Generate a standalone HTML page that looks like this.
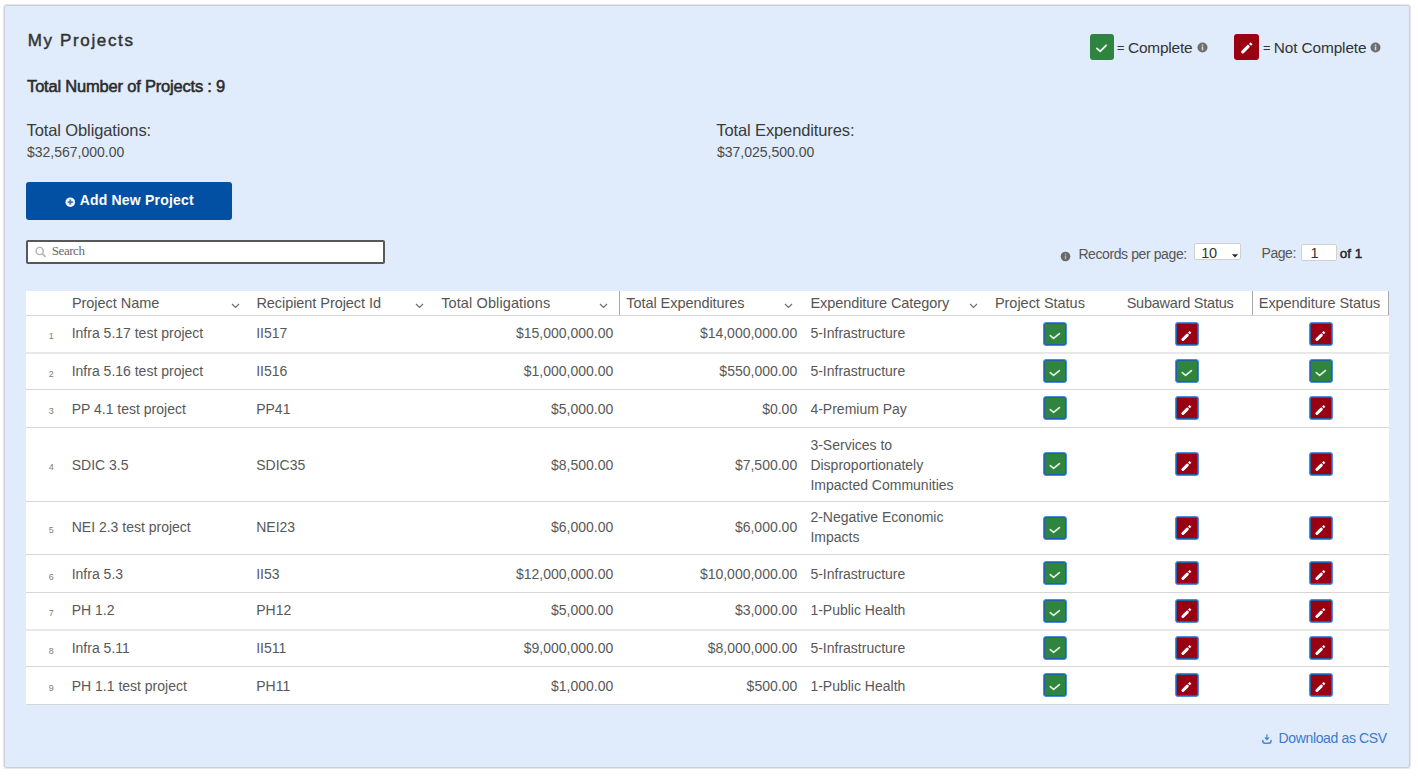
<!DOCTYPE html><html><head><meta charset="utf-8"><style>
html,body{margin:0;padding:0;background:#fff;width:1418px;height:778px;overflow:hidden;}
body{position:relative;font-family:"Liberation Sans",sans-serif;}
.t{position:absolute;white-space:nowrap;}
.r{position:absolute;box-sizing:border-box;}
svg{position:absolute;overflow:visible;}
</style></head><body>
<div class="r" style="left:4px;top:5px;width:1406px;height:763px;background:#e0ecfb;border:1px solid #cdd1d6;border-radius:3px;box-shadow:0 0 1px 0.5px rgba(0,0,0,0.10);"></div>
<div class="t" style="top:31.31px;font-size:17px;line-height:20px;color:#333;font-weight:400;letter-spacing:1.65px;left:27.70px;-webkit-text-stroke:0.45px #333;">My Projects</div>
<div class="t" style="top:75.88px;font-size:16.5px;line-height:20px;color:#2b2b2b;font-weight:400;letter-spacing:-0.2px;left:27.10px;-webkit-text-stroke:0.55px #2b2b2b;">Total Number of Projects : 9</div>
<div class="t" style="top:120.18px;font-size:16.5px;line-height:20px;color:#3a3a3a;font-weight:400;letter-spacing:-0.12px;left:26.60px;">Total Obligations:</div>
<div class="t" style="top:143.85px;font-size:14px;line-height:17px;color:#4a4a4a;font-weight:400;left:26.90px;">$32,567,000.00</div>
<div class="t" style="top:120.18px;font-size:16.5px;line-height:20px;color:#3a3a3a;font-weight:400;letter-spacing:-0.12px;left:716.30px;">Total Expenditures:</div>
<div class="t" style="top:143.65px;font-size:14px;line-height:17px;color:#4a4a4a;font-weight:400;left:717.00px;">$37,025,500.00</div>
<div class="r" style="left:26px;top:182px;width:206px;height:38px;background:#0250a3;border-radius:3px;"></div>
<svg style="left:65px;top:197.2px" width="11" height="11" viewBox="0 0 11 11"><circle cx="5.3" cy="5.2" r="4.8" fill="#f4f7fb"/><path d="M5.3 2.6v5.2M2.7 5.2h5.2" stroke="#3f78b8" stroke-width="1.8"/></svg>
<div class="t" style="top:191.65px;font-size:14px;line-height:17px;color:#ffffff;font-weight:700;letter-spacing:0.19px;left:79.70px;">Add New Project</div>
<div class="r" style="left:26px;top:240px;width:359px;height:24px;background:#fff;border:2px solid #585858;border-radius:2px;"></div>
<svg style="left:35px;top:246.4px" width="12" height="12" viewBox="0 0 12 12"><circle cx="4.7" cy="5" r="3.6" fill="none" stroke="#b0b0b0" stroke-width="1.4"/><path d="M7.3 7.6L10.6 10.9" stroke="#b0b0b0" stroke-width="1.5"/></svg>
<div class="t" style="top:243.20px;font-size:13px;line-height:16px;color:#6a6a6a;font-weight:400;font-family:'Liberation Serif',serif;letter-spacing:-0.45px;left:51.80px;">Search</div>
<svg style="left:1060px;top:251.2px" width="11" height="11" viewBox="0 0 11 11"><circle cx="5.5" cy="5.5" r="4.8" fill="#6a6a6a"/><rect x="4.8" y="4.6" width="1.4" height="3.6" fill="#b8b8b8"/><rect x="4.8" y="2.6" width="1.4" height="1.2" fill="#b8b8b8"/></svg>
<div class="t" style="top:245.65px;font-size:14px;line-height:17px;color:#555;font-weight:400;letter-spacing:-0.4px;left:1078.40px;">Records per page:</div>
<div class="r" style="left:1194px;top:243px;width:47px;height:17px;background:#fff;border:1px solid #d0d0d0;border-radius:2px;"></div>
<div class="t" style="top:244.78px;font-size:14.5px;line-height:17px;color:#333;font-weight:400;letter-spacing:-0.3px;left:1201.20px;">10</div>
<svg style="left:1231.5px;top:254px" width="6" height="4" viewBox="0 0 6 4"><path d="M0.3 0.4h5.4l-2.7 2.8z" fill="#222" stroke="#222" stroke-width="0.4" stroke-linejoin="round"/></svg>
<div class="t" style="top:245.25px;font-size:14px;line-height:17px;color:#555;font-weight:400;letter-spacing:-0.45px;left:1261.50px;">Page:</div>
<div class="r" style="left:1301px;top:244px;width:36px;height:17px;background:#fff;border:1px solid #d0d0d0;border-radius:2px;"></div>
<div class="t" style="top:244.78px;font-size:14.5px;line-height:17px;color:#333;font-weight:400;left:1310.50px;">1</div>
<div class="t" style="top:245.92px;font-size:13.5px;line-height:16px;color:#222;font-weight:400;left:1339.80px;-webkit-text-stroke:0.45px #222;">of 1</div>
<div class="r" style="left:1090px;top:34px;width:24px;height:26px;background:#2f8540;border-radius:3px;"></div>
<svg style="left:1090px;top:34px" width="24" height="26" viewBox="0 0 24 26"><path d="M6.8 14.4L10.2 17.3L16.1 11.3" fill="none" stroke="#eef6ee" stroke-width="1.8" stroke-linecap="round" stroke-linejoin="round"/></svg>
<div class="t" style="top:41.44px;font-size:12px;line-height:14px;color:#333;font-weight:400;left:1117.20px;-webkit-text-stroke:0.3px #333;">=</div>
<div class="t" style="top:39.16px;font-size:15.4px;line-height:18px;color:#333;font-weight:400;letter-spacing:-0.2px;left:1128.10px;">Complete</div>
<svg style="left:1197px;top:42px" width="11" height="11" viewBox="0 0 11 11"><circle cx="5.5" cy="5.5" r="5" fill="#6e6e6e"/><rect x="4.7" y="4.5" width="1.6" height="3.8" fill="#d8d8d8"/><rect x="4.7" y="2.5" width="1.6" height="1.3" fill="#d8d8d8"/></svg>
<div class="r" style="left:1234px;top:34px;width:25px;height:26px;background:#990012;border-radius:3px;"></div>
<svg style="left:1234px;top:34px" width="25" height="26" viewBox="0 0 25 26"><path d="M8.8 17.8L14.0 12.6" stroke="#fff" stroke-width="3.3" stroke-linecap="round"/><path d="M16.02 10.88L17.58 9.32" stroke="#fff" stroke-width="2.80" stroke-linecap="butt"/></svg>
<div class="t" style="top:41.44px;font-size:12px;line-height:14px;color:#333;font-weight:400;left:1263.20px;-webkit-text-stroke:0.3px #333;">=</div>
<div class="t" style="top:39.16px;font-size:15.4px;line-height:18px;color:#333;font-weight:400;letter-spacing:-0.12px;left:1273.80px;">Not Complete</div>
<svg style="left:1370px;top:42px" width="11" height="11" viewBox="0 0 11 11"><circle cx="5.5" cy="5.5" r="5" fill="#6e6e6e"/><rect x="4.7" y="4.5" width="1.6" height="3.8" fill="#d8d8d8"/><rect x="4.7" y="2.5" width="1.6" height="1.3" fill="#d8d8d8"/></svg>
<div class="r" style="left:26px;top:291px;width:1363px;height:414px;background:#fff;"></div>
<div class="r" style="left:26px;top:315px;width:1363px;height:1px;background:#d6d6d6;"></div>
<div class="r" style="left:26px;top:389px;width:1363px;height:1px;background:#d6d6d6;"></div>
<div class="r" style="left:26px;top:427px;width:1363px;height:1px;background:#d6d6d6;"></div>
<div class="r" style="left:26px;top:501px;width:1363px;height:1px;background:#d6d6d6;"></div>
<div class="r" style="left:26px;top:554px;width:1363px;height:1px;background:#d6d6d6;"></div>
<div class="r" style="left:26px;top:592px;width:1363px;height:1px;background:#d6d6d6;"></div>
<div class="r" style="left:26px;top:666px;width:1363px;height:1px;background:#d6d6d6;"></div>
<div class="r" style="left:26px;top:704px;width:1363px;height:1px;background:#d6d6d6;"></div>
<div class="r" style="left:26px;top:352px;width:1363px;height:2px;background:#e8e8e8;"></div>
<div class="r" style="left:26px;top:629px;width:1363px;height:2px;background:#e8e8e8;"></div>
<div class="r" style="left:619px;top:291px;width:1px;height:24px;background:#a9a9a9;"></div>
<div class="r" style="left:1252px;top:291px;width:1px;height:24px;background:#a9a9a9;"></div>
<div class="r" style="left:1388px;top:291px;width:1px;height:24px;background:#a9a9a9;"></div>
<div class="t" style="top:295.08px;font-size:14.5px;line-height:17px;color:#555;font-weight:400;letter-spacing:-0.03px;left:71.90px;">Project Name</div>
<div class="t" style="top:295.08px;font-size:14.5px;line-height:17px;color:#555;font-weight:400;letter-spacing:-0.06px;left:256.40px;">Recipient Project Id</div>
<div class="t" style="top:295.08px;font-size:14.5px;line-height:17px;color:#555;font-weight:400;letter-spacing:0.11px;left:441.20px;">Total Obligations</div>
<div class="t" style="top:295.08px;font-size:14.5px;line-height:17px;color:#555;font-weight:400;letter-spacing:-0.06px;left:626.30px;">Total Expenditures</div>
<div class="t" style="top:295.08px;font-size:14.5px;line-height:17px;color:#555;font-weight:400;letter-spacing:-0.08px;left:810.50px;">Expenditure Category</div>
<div class="t" style="top:295.08px;font-size:14.5px;line-height:17px;color:#555;font-weight:400;letter-spacing:-0.02px;left:994.90px;">Project Status</div>
<div class="t" style="top:295.08px;font-size:14.5px;line-height:17px;color:#555;font-weight:400;letter-spacing:-0.24px;left:1126.70px;">Subaward Status</div>
<div class="t" style="top:295.08px;font-size:14.5px;line-height:17px;color:#555;font-weight:400;letter-spacing:-0.06px;left:1258.80px;">Expenditure Status</div>
<svg style="left:230.8px;top:302.5px" width="9" height="6" viewBox="0 0 9 6"><path d="M1 1L4.5 4.5L8 1" fill="none" stroke="#707070" stroke-width="1.2"/></svg>
<svg style="left:415.3px;top:302.5px" width="9" height="6" viewBox="0 0 9 6"><path d="M1 1L4.5 4.5L8 1" fill="none" stroke="#707070" stroke-width="1.2"/></svg>
<svg style="left:599.3px;top:302.5px" width="9" height="6" viewBox="0 0 9 6"><path d="M1 1L4.5 4.5L8 1" fill="none" stroke="#707070" stroke-width="1.2"/></svg>
<svg style="left:784.3px;top:302.5px" width="9" height="6" viewBox="0 0 9 6"><path d="M1 1L4.5 4.5L8 1" fill="none" stroke="#707070" stroke-width="1.2"/></svg>
<svg style="left:969.3px;top:302.5px" width="9" height="6" viewBox="0 0 9 6"><path d="M1 1L4.5 4.5L8 1" fill="none" stroke="#707070" stroke-width="1.2"/></svg>
<div class="t" style="top:331.18px;font-size:9px;line-height:11px;color:#857a70;font-weight:400;left:-248.70px;width:600px;text-align:center;">1</div>
<div class="t" style="top:325.45px;font-size:14px;line-height:17px;color:#585858;font-weight:400;left:71.70px;">Infra 5.17 test project</div>
<div class="t" style="top:325.45px;font-size:14px;line-height:17px;color:#585858;font-weight:400;left:256.20px;">II517</div>
<div class="t" style="top:325.45px;font-size:14px;line-height:17px;color:#585858;font-weight:400;right:804.70px;text-align:right;">$15,000,000.00</div>
<div class="t" style="top:325.45px;font-size:14px;line-height:17px;color:#585858;font-weight:400;right:620.80px;text-align:right;">$14,000,000.00</div>
<div class="t" style="top:325.45px;font-size:14px;line-height:17px;color:#585858;font-weight:400;left:810.40px;">5-Infrastructure</div>
<div class="r" style="left:1043px;top:322px;width:24px;height:24px;background:#2f8540;border-radius:3px;border:1px solid #4a8ee0;box-shadow:inset 0 0 0 1px #2160a8;"></div>
<svg style="left:1043px;top:322px" width="24" height="24" viewBox="0 0 24 24"><path d="M7.3 13.6L10.6 16.4L16.4 11.6" fill="none" stroke="#e2efe2" stroke-width="1.7" stroke-linecap="round" stroke-linejoin="round"/></svg>
<div class="r" style="left:1175px;top:322px;width:24px;height:24px;background:#990012;border-radius:3px;border:1px solid #4a8ee0;box-shadow:inset 0 0 0 1px #2160a8;"></div>
<svg style="left:1175px;top:322px" width="24" height="24" viewBox="0 0 24 24"><path d="M7.9 17.5L12.3 13.1" stroke="#fff" stroke-width="3" stroke-linecap="round"/><path d="M13.92 11.38L15.48 9.82" stroke="#fff" stroke-width="2.55" stroke-linecap="butt"/></svg>
<div class="r" style="left:1309px;top:322px;width:24px;height:24px;background:#990012;border-radius:3px;border:1px solid #4a8ee0;box-shadow:inset 0 0 0 1px #2160a8;"></div>
<svg style="left:1309px;top:322px" width="24" height="24" viewBox="0 0 24 24"><path d="M7.9 17.5L12.3 13.1" stroke="#fff" stroke-width="3" stroke-linecap="round"/><path d="M13.92 11.38L15.48 9.82" stroke="#fff" stroke-width="2.55" stroke-linecap="butt"/></svg>
<div class="t" style="top:368.88px;font-size:9px;line-height:11px;color:#857a70;font-weight:400;left:-248.70px;width:600px;text-align:center;">2</div>
<div class="t" style="top:363.15px;font-size:14px;line-height:17px;color:#585858;font-weight:400;left:71.70px;">Infra 5.16 test project</div>
<div class="t" style="top:363.15px;font-size:14px;line-height:17px;color:#585858;font-weight:400;left:256.20px;">II516</div>
<div class="t" style="top:363.15px;font-size:14px;line-height:17px;color:#585858;font-weight:400;right:804.70px;text-align:right;">$1,000,000.00</div>
<div class="t" style="top:363.15px;font-size:14px;line-height:17px;color:#585858;font-weight:400;right:620.80px;text-align:right;">$550,000.00</div>
<div class="t" style="top:363.15px;font-size:14px;line-height:17px;color:#585858;font-weight:400;left:810.40px;">5-Infrastructure</div>
<div class="r" style="left:1043px;top:359px;width:24px;height:24px;background:#2f8540;border-radius:3px;border:1px solid #4a8ee0;box-shadow:inset 0 0 0 1px #2160a8;"></div>
<svg style="left:1043px;top:359px" width="24" height="24" viewBox="0 0 24 24"><path d="M7.3 13.6L10.6 16.4L16.4 11.6" fill="none" stroke="#e2efe2" stroke-width="1.7" stroke-linecap="round" stroke-linejoin="round"/></svg>
<div class="r" style="left:1175px;top:359px;width:24px;height:24px;background:#2f8540;border-radius:3px;border:1px solid #4a8ee0;box-shadow:inset 0 0 0 1px #2160a8;"></div>
<svg style="left:1175px;top:359px" width="24" height="24" viewBox="0 0 24 24"><path d="M7.3 13.6L10.6 16.4L16.4 11.6" fill="none" stroke="#e2efe2" stroke-width="1.7" stroke-linecap="round" stroke-linejoin="round"/></svg>
<div class="r" style="left:1309px;top:359px;width:24px;height:24px;background:#2f8540;border-radius:3px;border:1px solid #4a8ee0;box-shadow:inset 0 0 0 1px #2160a8;"></div>
<svg style="left:1309px;top:359px" width="24" height="24" viewBox="0 0 24 24"><path d="M7.3 13.6L10.6 16.4L16.4 11.6" fill="none" stroke="#e2efe2" stroke-width="1.7" stroke-linecap="round" stroke-linejoin="round"/></svg>
<div class="t" style="top:406.48px;font-size:9px;line-height:11px;color:#857a70;font-weight:400;left:-248.70px;width:600px;text-align:center;">3</div>
<div class="t" style="top:400.75px;font-size:14px;line-height:17px;color:#585858;font-weight:400;left:71.70px;">PP 4.1 test project</div>
<div class="t" style="top:400.75px;font-size:14px;line-height:17px;color:#585858;font-weight:400;left:256.20px;">PP41</div>
<div class="t" style="top:400.75px;font-size:14px;line-height:17px;color:#585858;font-weight:400;right:804.70px;text-align:right;">$5,000.00</div>
<div class="t" style="top:400.75px;font-size:14px;line-height:17px;color:#585858;font-weight:400;right:620.80px;text-align:right;">$0.00</div>
<div class="t" style="top:400.75px;font-size:14px;line-height:17px;color:#585858;font-weight:400;left:810.40px;">4-Premium Pay</div>
<div class="r" style="left:1043px;top:396px;width:24px;height:24px;background:#2f8540;border-radius:3px;border:1px solid #4a8ee0;box-shadow:inset 0 0 0 1px #2160a8;"></div>
<svg style="left:1043px;top:396px" width="24" height="24" viewBox="0 0 24 24"><path d="M7.3 13.6L10.6 16.4L16.4 11.6" fill="none" stroke="#e2efe2" stroke-width="1.7" stroke-linecap="round" stroke-linejoin="round"/></svg>
<div class="r" style="left:1175px;top:396px;width:24px;height:24px;background:#990012;border-radius:3px;border:1px solid #4a8ee0;box-shadow:inset 0 0 0 1px #2160a8;"></div>
<svg style="left:1175px;top:396px" width="24" height="24" viewBox="0 0 24 24"><path d="M7.9 17.5L12.3 13.1" stroke="#fff" stroke-width="3" stroke-linecap="round"/><path d="M13.92 11.38L15.48 9.82" stroke="#fff" stroke-width="2.55" stroke-linecap="butt"/></svg>
<div class="r" style="left:1309px;top:396px;width:24px;height:24px;background:#990012;border-radius:3px;border:1px solid #4a8ee0;box-shadow:inset 0 0 0 1px #2160a8;"></div>
<svg style="left:1309px;top:396px" width="24" height="24" viewBox="0 0 24 24"><path d="M7.9 17.5L12.3 13.1" stroke="#fff" stroke-width="3" stroke-linecap="round"/><path d="M13.92 11.38L15.48 9.82" stroke="#fff" stroke-width="2.55" stroke-linecap="butt"/></svg>
<div class="t" style="top:462.38px;font-size:9px;line-height:11px;color:#857a70;font-weight:400;left:-248.70px;width:600px;text-align:center;">4</div>
<div class="t" style="top:456.65px;font-size:14px;line-height:17px;color:#585858;font-weight:400;left:71.70px;">SDIC 3.5</div>
<div class="t" style="top:456.65px;font-size:14px;line-height:17px;color:#585858;font-weight:400;left:256.20px;">SDIC35</div>
<div class="t" style="top:456.65px;font-size:14px;line-height:17px;color:#585858;font-weight:400;right:804.70px;text-align:right;">$8,500.00</div>
<div class="t" style="top:456.65px;font-size:14px;line-height:17px;color:#585858;font-weight:400;right:620.80px;text-align:right;">$7,500.00</div>
<div class="t" style="top:436.65px;font-size:14px;line-height:17px;color:#585858;font-weight:400;left:810.40px;">3-Services to</div>
<div class="t" style="top:456.65px;font-size:14px;line-height:17px;color:#585858;font-weight:400;left:810.40px;">Disproportionately</div>
<div class="t" style="top:476.65px;font-size:14px;line-height:17px;color:#585858;font-weight:400;left:810.40px;">Impacted Communities</div>
<div class="r" style="left:1043px;top:452px;width:24px;height:24px;background:#2f8540;border-radius:3px;border:1px solid #4a8ee0;box-shadow:inset 0 0 0 1px #2160a8;"></div>
<svg style="left:1043px;top:452px" width="24" height="24" viewBox="0 0 24 24"><path d="M7.3 13.6L10.6 16.4L16.4 11.6" fill="none" stroke="#e2efe2" stroke-width="1.7" stroke-linecap="round" stroke-linejoin="round"/></svg>
<div class="r" style="left:1175px;top:452px;width:24px;height:24px;background:#990012;border-radius:3px;border:1px solid #4a8ee0;box-shadow:inset 0 0 0 1px #2160a8;"></div>
<svg style="left:1175px;top:452px" width="24" height="24" viewBox="0 0 24 24"><path d="M7.9 17.5L12.3 13.1" stroke="#fff" stroke-width="3" stroke-linecap="round"/><path d="M13.92 11.38L15.48 9.82" stroke="#fff" stroke-width="2.55" stroke-linecap="butt"/></svg>
<div class="r" style="left:1309px;top:452px;width:24px;height:24px;background:#990012;border-radius:3px;border:1px solid #4a8ee0;box-shadow:inset 0 0 0 1px #2160a8;"></div>
<svg style="left:1309px;top:452px" width="24" height="24" viewBox="0 0 24 24"><path d="M7.9 17.5L12.3 13.1" stroke="#fff" stroke-width="3" stroke-linecap="round"/><path d="M13.92 11.38L15.48 9.82" stroke="#fff" stroke-width="2.55" stroke-linecap="butt"/></svg>
<div class="t" style="top:524.98px;font-size:9px;line-height:11px;color:#857a70;font-weight:400;left:-248.70px;width:600px;text-align:center;">5</div>
<div class="t" style="top:519.25px;font-size:14px;line-height:17px;color:#585858;font-weight:400;left:71.70px;">NEI 2.3 test project</div>
<div class="t" style="top:519.25px;font-size:14px;line-height:17px;color:#585858;font-weight:400;left:256.20px;">NEI23</div>
<div class="t" style="top:519.25px;font-size:14px;line-height:17px;color:#585858;font-weight:400;right:804.70px;text-align:right;">$6,000.00</div>
<div class="t" style="top:519.25px;font-size:14px;line-height:17px;color:#585858;font-weight:400;right:620.80px;text-align:right;">$6,000.00</div>
<div class="t" style="top:509.25px;font-size:14px;line-height:17px;color:#585858;font-weight:400;left:810.40px;">2-Negative Economic</div>
<div class="t" style="top:529.25px;font-size:14px;line-height:17px;color:#585858;font-weight:400;left:810.40px;">Impacts</div>
<div class="r" style="left:1043px;top:516px;width:24px;height:24px;background:#2f8540;border-radius:3px;border:1px solid #4a8ee0;box-shadow:inset 0 0 0 1px #2160a8;"></div>
<svg style="left:1043px;top:516px" width="24" height="24" viewBox="0 0 24 24"><path d="M7.3 13.6L10.6 16.4L16.4 11.6" fill="none" stroke="#e2efe2" stroke-width="1.7" stroke-linecap="round" stroke-linejoin="round"/></svg>
<div class="r" style="left:1175px;top:516px;width:24px;height:24px;background:#990012;border-radius:3px;border:1px solid #4a8ee0;box-shadow:inset 0 0 0 1px #2160a8;"></div>
<svg style="left:1175px;top:516px" width="24" height="24" viewBox="0 0 24 24"><path d="M7.9 17.5L12.3 13.1" stroke="#fff" stroke-width="3" stroke-linecap="round"/><path d="M13.92 11.38L15.48 9.82" stroke="#fff" stroke-width="2.55" stroke-linecap="butt"/></svg>
<div class="r" style="left:1309px;top:516px;width:24px;height:24px;background:#990012;border-radius:3px;border:1px solid #4a8ee0;box-shadow:inset 0 0 0 1px #2160a8;"></div>
<svg style="left:1309px;top:516px" width="24" height="24" viewBox="0 0 24 24"><path d="M7.9 17.5L12.3 13.1" stroke="#fff" stroke-width="3" stroke-linecap="round"/><path d="M13.92 11.38L15.48 9.82" stroke="#fff" stroke-width="2.55" stroke-linecap="butt"/></svg>
<div class="t" style="top:571.58px;font-size:9px;line-height:11px;color:#857a70;font-weight:400;left:-248.70px;width:600px;text-align:center;">6</div>
<div class="t" style="top:565.85px;font-size:14px;line-height:17px;color:#585858;font-weight:400;left:71.70px;">Infra 5.3</div>
<div class="t" style="top:565.85px;font-size:14px;line-height:17px;color:#585858;font-weight:400;left:256.20px;">II53</div>
<div class="t" style="top:565.85px;font-size:14px;line-height:17px;color:#585858;font-weight:400;right:804.70px;text-align:right;">$12,000,000.00</div>
<div class="t" style="top:565.85px;font-size:14px;line-height:17px;color:#585858;font-weight:400;right:620.80px;text-align:right;">$10,000,000.00</div>
<div class="t" style="top:565.85px;font-size:14px;line-height:17px;color:#585858;font-weight:400;left:810.40px;">5-Infrastructure</div>
<div class="r" style="left:1043px;top:561px;width:24px;height:24px;background:#2f8540;border-radius:3px;border:1px solid #4a8ee0;box-shadow:inset 0 0 0 1px #2160a8;"></div>
<svg style="left:1043px;top:561px" width="24" height="24" viewBox="0 0 24 24"><path d="M7.3 13.6L10.6 16.4L16.4 11.6" fill="none" stroke="#e2efe2" stroke-width="1.7" stroke-linecap="round" stroke-linejoin="round"/></svg>
<div class="r" style="left:1175px;top:561px;width:24px;height:24px;background:#990012;border-radius:3px;border:1px solid #4a8ee0;box-shadow:inset 0 0 0 1px #2160a8;"></div>
<svg style="left:1175px;top:561px" width="24" height="24" viewBox="0 0 24 24"><path d="M7.9 17.5L12.3 13.1" stroke="#fff" stroke-width="3" stroke-linecap="round"/><path d="M13.92 11.38L15.48 9.82" stroke="#fff" stroke-width="2.55" stroke-linecap="butt"/></svg>
<div class="r" style="left:1309px;top:561px;width:24px;height:24px;background:#990012;border-radius:3px;border:1px solid #4a8ee0;box-shadow:inset 0 0 0 1px #2160a8;"></div>
<svg style="left:1309px;top:561px" width="24" height="24" viewBox="0 0 24 24"><path d="M7.9 17.5L12.3 13.1" stroke="#fff" stroke-width="3" stroke-linecap="round"/><path d="M13.92 11.38L15.48 9.82" stroke="#fff" stroke-width="2.55" stroke-linecap="butt"/></svg>
<div class="t" style="top:607.98px;font-size:9px;line-height:11px;color:#857a70;font-weight:400;left:-248.70px;width:600px;text-align:center;">7</div>
<div class="t" style="top:602.25px;font-size:14px;line-height:17px;color:#585858;font-weight:400;left:71.70px;">PH 1.2</div>
<div class="t" style="top:602.25px;font-size:14px;line-height:17px;color:#585858;font-weight:400;left:256.20px;">PH12</div>
<div class="t" style="top:602.25px;font-size:14px;line-height:17px;color:#585858;font-weight:400;right:804.70px;text-align:right;">$5,000.00</div>
<div class="t" style="top:602.25px;font-size:14px;line-height:17px;color:#585858;font-weight:400;right:620.80px;text-align:right;">$3,000.00</div>
<div class="t" style="top:602.25px;font-size:14px;line-height:17px;color:#585858;font-weight:400;left:810.40px;">1-Public Health</div>
<div class="r" style="left:1043px;top:599px;width:24px;height:24px;background:#2f8540;border-radius:3px;border:1px solid #4a8ee0;box-shadow:inset 0 0 0 1px #2160a8;"></div>
<svg style="left:1043px;top:599px" width="24" height="24" viewBox="0 0 24 24"><path d="M7.3 13.6L10.6 16.4L16.4 11.6" fill="none" stroke="#e2efe2" stroke-width="1.7" stroke-linecap="round" stroke-linejoin="round"/></svg>
<div class="r" style="left:1175px;top:599px;width:24px;height:24px;background:#990012;border-radius:3px;border:1px solid #4a8ee0;box-shadow:inset 0 0 0 1px #2160a8;"></div>
<svg style="left:1175px;top:599px" width="24" height="24" viewBox="0 0 24 24"><path d="M7.9 17.5L12.3 13.1" stroke="#fff" stroke-width="3" stroke-linecap="round"/><path d="M13.92 11.38L15.48 9.82" stroke="#fff" stroke-width="2.55" stroke-linecap="butt"/></svg>
<div class="r" style="left:1309px;top:599px;width:24px;height:24px;background:#990012;border-radius:3px;border:1px solid #4a8ee0;box-shadow:inset 0 0 0 1px #2160a8;"></div>
<svg style="left:1309px;top:599px" width="24" height="24" viewBox="0 0 24 24"><path d="M7.9 17.5L12.3 13.1" stroke="#fff" stroke-width="3" stroke-linecap="round"/><path d="M13.92 11.38L15.48 9.82" stroke="#fff" stroke-width="2.55" stroke-linecap="butt"/></svg>
<div class="t" style="top:645.78px;font-size:9px;line-height:11px;color:#857a70;font-weight:400;left:-248.70px;width:600px;text-align:center;">8</div>
<div class="t" style="top:640.05px;font-size:14px;line-height:17px;color:#585858;font-weight:400;left:71.70px;">Infra 5.11</div>
<div class="t" style="top:640.05px;font-size:14px;line-height:17px;color:#585858;font-weight:400;left:256.20px;">II511</div>
<div class="t" style="top:640.05px;font-size:14px;line-height:17px;color:#585858;font-weight:400;right:804.70px;text-align:right;">$9,000,000.00</div>
<div class="t" style="top:640.05px;font-size:14px;line-height:17px;color:#585858;font-weight:400;right:620.80px;text-align:right;">$8,000,000.00</div>
<div class="t" style="top:640.05px;font-size:14px;line-height:17px;color:#585858;font-weight:400;left:810.40px;">5-Infrastructure</div>
<div class="r" style="left:1043px;top:636px;width:24px;height:24px;background:#2f8540;border-radius:3px;border:1px solid #4a8ee0;box-shadow:inset 0 0 0 1px #2160a8;"></div>
<svg style="left:1043px;top:636px" width="24" height="24" viewBox="0 0 24 24"><path d="M7.3 13.6L10.6 16.4L16.4 11.6" fill="none" stroke="#e2efe2" stroke-width="1.7" stroke-linecap="round" stroke-linejoin="round"/></svg>
<div class="r" style="left:1175px;top:636px;width:24px;height:24px;background:#990012;border-radius:3px;border:1px solid #4a8ee0;box-shadow:inset 0 0 0 1px #2160a8;"></div>
<svg style="left:1175px;top:636px" width="24" height="24" viewBox="0 0 24 24"><path d="M7.9 17.5L12.3 13.1" stroke="#fff" stroke-width="3" stroke-linecap="round"/><path d="M13.92 11.38L15.48 9.82" stroke="#fff" stroke-width="2.55" stroke-linecap="butt"/></svg>
<div class="r" style="left:1309px;top:636px;width:24px;height:24px;background:#990012;border-radius:3px;border:1px solid #4a8ee0;box-shadow:inset 0 0 0 1px #2160a8;"></div>
<svg style="left:1309px;top:636px" width="24" height="24" viewBox="0 0 24 24"><path d="M7.9 17.5L12.3 13.1" stroke="#fff" stroke-width="3" stroke-linecap="round"/><path d="M13.92 11.38L15.48 9.82" stroke="#fff" stroke-width="2.55" stroke-linecap="butt"/></svg>
<div class="t" style="top:683.38px;font-size:9px;line-height:11px;color:#857a70;font-weight:400;left:-248.70px;width:600px;text-align:center;">9</div>
<div class="t" style="top:677.65px;font-size:14px;line-height:17px;color:#585858;font-weight:400;left:71.70px;">PH 1.1 test project</div>
<div class="t" style="top:677.65px;font-size:14px;line-height:17px;color:#585858;font-weight:400;left:256.20px;">PH11</div>
<div class="t" style="top:677.65px;font-size:14px;line-height:17px;color:#585858;font-weight:400;right:804.70px;text-align:right;">$1,000.00</div>
<div class="t" style="top:677.65px;font-size:14px;line-height:17px;color:#585858;font-weight:400;right:620.80px;text-align:right;">$500.00</div>
<div class="t" style="top:677.65px;font-size:14px;line-height:17px;color:#585858;font-weight:400;left:810.40px;">1-Public Health</div>
<div class="r" style="left:1043px;top:673px;width:24px;height:24px;background:#2f8540;border-radius:3px;border:1px solid #4a8ee0;box-shadow:inset 0 0 0 1px #2160a8;"></div>
<svg style="left:1043px;top:673px" width="24" height="24" viewBox="0 0 24 24"><path d="M7.3 13.6L10.6 16.4L16.4 11.6" fill="none" stroke="#e2efe2" stroke-width="1.7" stroke-linecap="round" stroke-linejoin="round"/></svg>
<div class="r" style="left:1175px;top:673px;width:24px;height:24px;background:#990012;border-radius:3px;border:1px solid #4a8ee0;box-shadow:inset 0 0 0 1px #2160a8;"></div>
<svg style="left:1175px;top:673px" width="24" height="24" viewBox="0 0 24 24"><path d="M7.9 17.5L12.3 13.1" stroke="#fff" stroke-width="3" stroke-linecap="round"/><path d="M13.92 11.38L15.48 9.82" stroke="#fff" stroke-width="2.55" stroke-linecap="butt"/></svg>
<div class="r" style="left:1309px;top:673px;width:24px;height:24px;background:#990012;border-radius:3px;border:1px solid #4a8ee0;box-shadow:inset 0 0 0 1px #2160a8;"></div>
<svg style="left:1309px;top:673px" width="24" height="24" viewBox="0 0 24 24"><path d="M7.9 17.5L12.3 13.1" stroke="#fff" stroke-width="3" stroke-linecap="round"/><path d="M13.92 11.38L15.48 9.82" stroke="#fff" stroke-width="2.55" stroke-linecap="butt"/></svg>
<svg style="left:1261px;top:733px" width="12" height="12" viewBox="0 0 12 12"><path d="M5.9 1.2v4" stroke="#6a9fe0" stroke-width="1.6"/><path d="M3.2 4.6h5.4L5.9 7.6z" fill="#3f7fcf"/><path d="M1.8 7.5v0.6a2.2 2.2 0 0 0 2.2 2.2h3.8a2.2 2.2 0 0 0 2.2 -2.2v-0.6" fill="none" stroke="#4a88d4" stroke-width="1.6" stroke-linecap="round"/></svg>
<div class="t" style="top:730.25px;font-size:14px;line-height:17px;color:#3b7bcb;font-weight:400;letter-spacing:-0.36px;left:1278.60px;">Download as CSV</div>
</body></html>
